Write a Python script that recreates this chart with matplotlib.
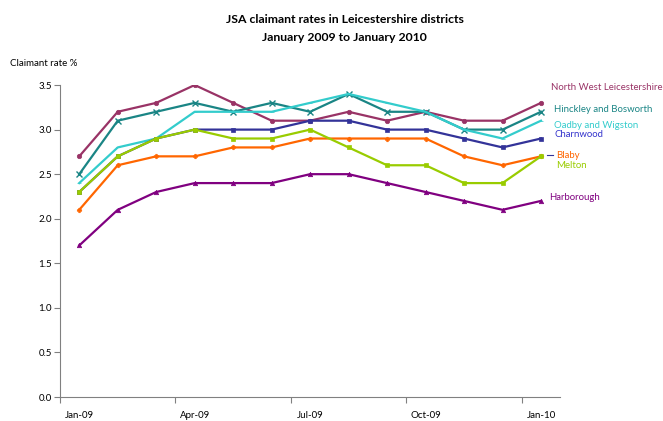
from matplotlib import pyplot as plt
import numpy as np

plt.rcParams['font.family'] = ['Lato', 'DejaVu Sans']

# months Jan-09 .. Jan-10
months = ["Jan-09", "Feb-09", "Mar-09", "Apr-09", "May-09", "Jun-09", "Jul-09",
          "Aug-09", "Sep-09", "Oct-09", "Nov-09", "Dec-09", "Jan-10"]
tick_labels = ["Jan-09", "Apr-09", "Jul-09", "Oct-09", "Jan-10"]

nw_leics = [2.7, 3.2, 3.3, 3.5, 3.3, 3.1, 3.1, 3.2, 3.1, 3.2, 3.1, 3.1, 3.3]
hinckley = [2.5, 3.1, 3.2, 3.3, 3.2, 3.3, 3.2, 3.4, 3.2, 3.2, 3.0, 3.0, 3.2]
oadby = [2.4, 2.8, 2.9, 3.2, 3.2, 3.2, 3.3, 3.4, 3.3, 3.2, 3.0, 2.9, 3.1]
charnwood = [2.3, 2.7, 2.9, 3.0, 3.0, 3.0, 3.1, 3.1, 3.0, 3.0, 2.9, 2.8, 2.9]
blaby = [2.1, 2.6, 2.7, 2.7, 2.8, 2.8, 2.9, 2.9, 2.9, 2.9, 2.7, 2.6, 2.7]
melton = [2.3, 2.7, 2.9, 3.0, 2.9, 2.9, 3.0, 2.8, 2.6, 2.6, 2.4, 2.4, 2.7]
harborough = [1.7, 2.1, 2.3, 2.4, 2.4, 2.4, 2.5, 2.5, 2.4, 2.3, 2.2, 2.1, 2.2]

# (name, values, line colour, marker, label colour, label y)
series = [
    ("North West Leicestershire", nw_leics, "#993366", "o", "#993366", 3.47),
    ("Hinckley and Bosworth", hinckley, "#1a8585", "x", "#1a8585", 3.23),
    ("Oadby and Wigston", oadby, "#33cccc", "_", "#33cccc", 3.05),
    ("Charnwood", charnwood, "#333399", "s", "#3333cc", 2.94),
    ("Blaby", blaby, "#ff6600", "P", "#ff6600", 2.71),
    ("Melton", melton, "#99cc00", "s", "#99cc00", 2.60),
    ("Harborough", harborough, "#800080", "^", "#800080", 2.24),
]

fig = plt.figure(figsize=(6.63, 4.21), dpi=100)
ax = fig.add_axes([0.0905, 0.057, 0.7545, 0.741])

x = np.arange(len(months))
order = [0, 1, 2, 3, 4, 6, 5]
for i in order:
    name, vals, col, mk, lcol, ly = series[i]
    ms = 3.2 if mk != "x" else 4
    ax.plot(x, vals, color=col, lw=1.6, marker=mk, ms=ms, mew=1.0 if mk == "x" else 0.5,
            zorder=3)

label_x = {"North West Leicestershire": 12.25, "Blaby": 12.4, "Melton": 12.4,
           "Harborough": 12.2}
for name, vals, col, mk, lcol, ly in series:
    xt = label_x.get(name, 12.35)
    ax.text(xt, ly, name, color=lcol, fontsize=6.9, va="center", ha="left",
            clip_on=False)

# small leader line next to Blaby label
ax.plot([12.15, 12.3], [2.715, 2.715], color="#333399", lw=0.8, clip_on=False)

ax.set_xlim(-0.5, 12.5)
ax.set_ylim(0, 3.5)
ax.set_yticks(np.arange(0, 3.51, 0.5))
ax.set_yticklabels(["%.1f" % v for v in np.arange(0, 3.51, 0.5)], fontsize=7)

ax.set_xticks([-0.5, 2.5, 5.5, 8.5, 11.5])
ax.set_xticklabels([])
ax.set_xticks([0, 3, 6, 9, 12], minor=True)
ax.set_xticklabels(tick_labels, minor=True, fontsize=7)
ax.tick_params(axis="x", which="minor", length=0, pad=10)
ax.tick_params(axis="x", which="major", length=4, color="#808080")
ax.tick_params(axis="y", length=4, color="#808080", pad=2)

for s in ["top", "right"]:
    ax.spines[s].set_visible(False)
for s in ["left", "bottom"]:
    ax.spines[s].set_color("#808080")
    ax.spines[s].set_linewidth(0.8)

fig.text(0.52, 0.933, "JSA claimant rates in Leicestershire districts\nJanuary 2009 to January 2010",
         ha="center", va="center", fontsize=8.8, fontweight="bold", linespacing=1.8)
fig.text(0.015, 0.85, "Claimant rate %", fontsize=7, ha="left", va="center")

fig.savefig("out.png", dpi=100)
